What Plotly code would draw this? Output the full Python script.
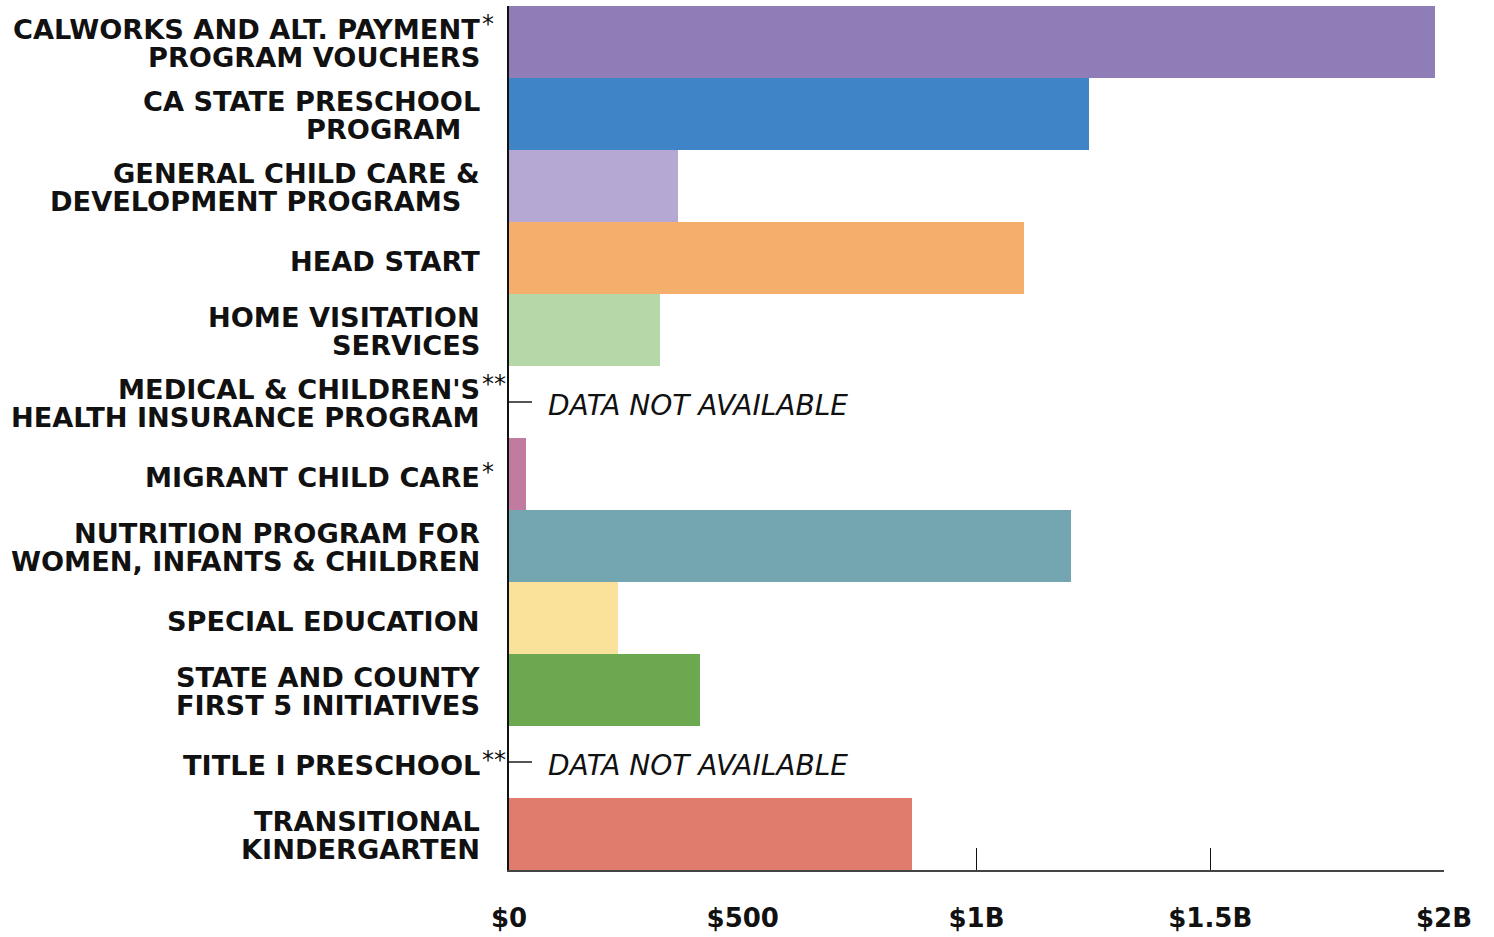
import plotly.graph_objects as go

label_lines = [
    ["CALWORKS AND ALT. PAYMENT", "PROGRAM VOUCHERS"],
    ["CA STATE PRESCHOOL", "PROGRAM\u00a0\u00a0"],
    ["GENERAL CHILD CARE &", "DEVELOPMENT PROGRAMS\u00a0\u00a0"],
    ["HEAD START"],
    ["HOME VISITATION", "SERVICES"],
    ["MEDICAL & CHILDREN'S", "HEALTH INSURANCE PROGRAM"],
    ["MIGRANT CHILD CARE"],
    ["NUTRITION PROGRAM FOR", "WOMEN, INFANTS & CHILDREN"],
    ["SPECIAL EDUCATION"],
    ["STATE AND COUNTY", "FIRST 5 INITIATIVES"],
    ["TITLE I PRESCHOOL"],
    ["TRANSITIONAL", "KINDERGARTEN"],
]
values_billion = [1.981, 1.241, 0.361, 1.102, 0.323, None, 0.036, 1.202, 0.233, 0.409, None, 0.862]
colors = ["#8F7DB8", "#3E84C6", "#B5A8D2", "#F5AF6C", "#B6D7A8", "#FFFFFF",
          "#C27BA0", "#74A6B1", "#FBE29B", "#6CA84F", "#FFFFFF", "#DF7C6D"]
footnotes = ["*", "", "", "", "", "**", "*", "", "", "", "**", ""]
na_label = "DATA NOT AVAILABLE"
tick_vals = [0, 0.5, 1, 1.5, 2]
tick_text = ["$0", "$500", "$1B", "$1.5B", "$2B"]

ids = list(range(len(label_lines)))
na_ids = [i for i, v in enumerate(values_billion) if v is None]
LABEL_FONT = dict(family="DejaVu Sans", size=27.2, color="#111111", weight=700)

fig = go.Figure(go.Bar(
    x=values_billion, y=ids, orientation="h",
    marker=dict(color=colors, line=dict(width=0)),
    hoverinfo="skip",
))
# invisible trace to activate the secondary y axis (tick stubs for N/A rows)
fig.add_trace(go.Scatter(x=[None], y=[None], yaxis="y2", showlegend=False, hoverinfo="skip"))

annotations = []
for i, (lines, v, fn) in enumerate(zip(label_lines, values_billion, footnotes)):
    if len(lines) == 2:
        shifts = [13, -15]
    else:
        shifts = [-3]
    for line, ys in zip(lines, shifts):
        annotations.append(dict(
            x=0, y=i, xref="paper", yref="y", xanchor="right", yanchor="middle",
            xshift=-27, yshift=ys, text=line, showarrow=False, font=LABEL_FONT,
        ))
    if fn:
        annotations.append(dict(
            x=0, y=i, xref="paper", yref="y", xanchor="left", yanchor="middle",
            xshift=-29, yshift=shifts[0] + 5, text=fn, showarrow=False,
            font=dict(family="DejaVu Sans", size=24, color="#111111"),
        ))
    if v is None:
        annotations.append(dict(
            x=0, y=i, xref="x", yref="y", xanchor="left", yanchor="middle",
            xshift=37, yshift=-3, text=na_label, showarrow=False,
            font=dict(family="DejaVu Sans", size=28, color="#111111", style="italic", weight=200),
        ))

fig.update_layout(
    width=1494, height=937,
    margin=dict(l=509, r=50, t=6, b=67, autoexpand=False),
    paper_bgcolor="white", plot_bgcolor="white",
    bargap=0, showlegend=False,
    annotations=annotations,
    xaxis=dict(
        range=[0, 2.0001], tickvals=tick_vals, ticktext=tick_text,
        showgrid=False, zeroline=False,
        showline=True, linecolor="#444444", linewidth=1.5,
        ticks="inside", ticklen=22, tickcolor="#111111", tickwidth=1,
        tickfont=dict(family="DejaVu Sans", size=26, color="#111111", weight=700),
        ticklabelstandoff=24, layer="below traces", fixedrange=True, automargin=False,
    ),
    yaxis=dict(
        tickvals=ids, range=[11.5, -0.5], autorange=False,
        showticklabels=False, showgrid=False, zeroline=False,
        showline=True, linecolor="#111111", linewidth=2,
        ticks="", layer="below traces", fixedrange=True, automargin=False,
    ),
    yaxis2=dict(
        overlaying="y", side="left", range=[11.5, -0.5], autorange=False,
        tickvals=na_ids, showticklabels=False, showgrid=False, zeroline=False,
        showline=False, ticks="inside", ticklen=23, tickcolor="#555555", tickwidth=1.5,
        layer="below traces", fixedrange=True, automargin=False,
    ),
)

fig.write_html("out.html", config={"displayModeBar": False},
               post_script="document.body.style.margin='0';")
